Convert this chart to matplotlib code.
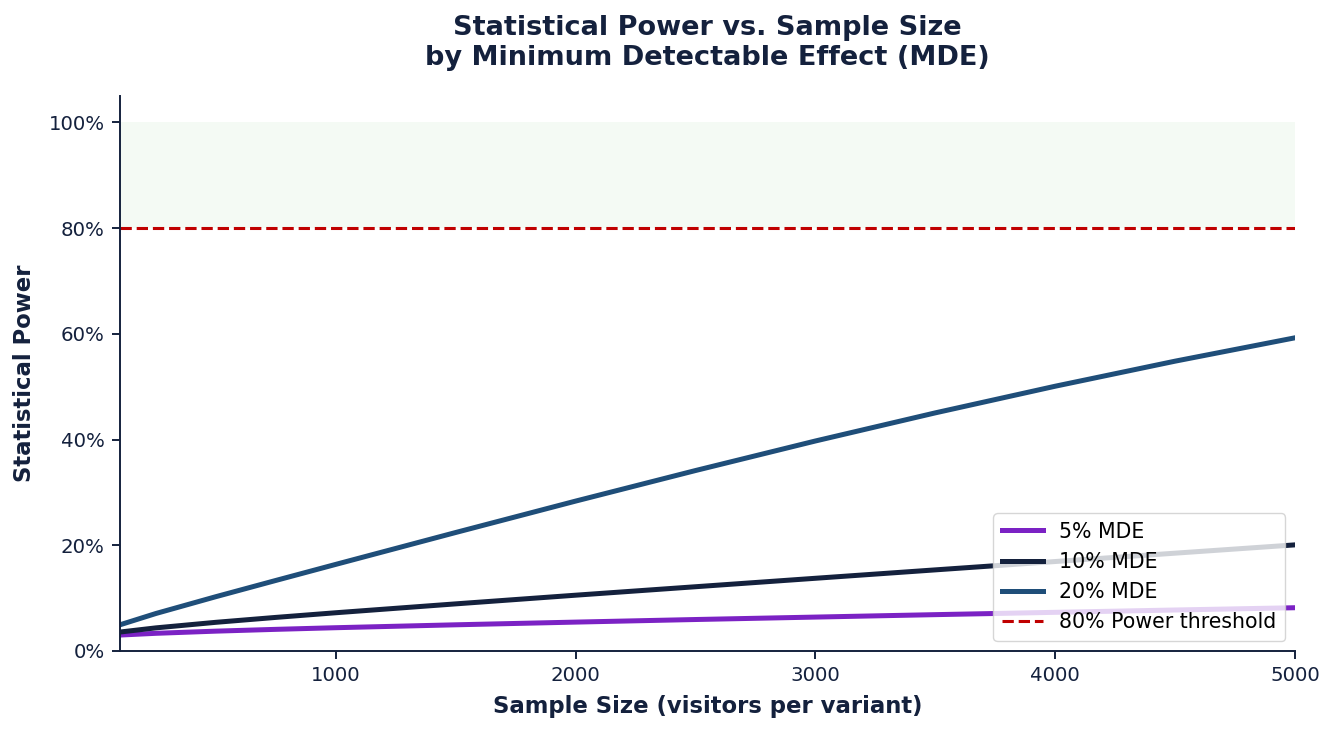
import matplotlib
matplotlib.use("Agg")
import matplotlib.pyplot as plt
from matplotlib.ticker import PercentFormatter

# Sample sizes (visitors per variant)
sample_sizes = [100, 250, 500, 750, 1000, 1500, 2000, 2500, 3000, 3500, 4000, 4500, 5000]

# Power values
power_5 = [0.0301, 0.0334, 0.0375, 0.0409, 0.0440, 0.0495, 0.0546, 0.0595, 0.0641, 0.0687, 0.0731, 0.0775, 0.0818]
power_10 = [0.0358, 0.0437, 0.0542, 0.0635, 0.0723, 0.0891, 0.1055, 0.1215, 0.1375, 0.1534, 0.1692, 0.1850, 0.2007]
power_20 = [0.0495, 0.0709, 0.1027, 0.1334, 0.1638, 0.2241, 0.2835, 0.3413, 0.3972, 0.4504, 0.5008, 0.5482, 0.5924]

series_labels = ["5% MDE", "10% MDE", "20% MDE"]
threshold = 0.8
threshold_label = "80% Power threshold"

navy = "#14213D"
colors = ["#7B22C4", "#14213D", "#1F4E79"]

fig = plt.figure(figsize=(13.36, 7.32), dpi=100)
ax = fig.add_axes([0.0898, 0.1107, 0.8795, 0.7583])

ax.axhspan(0.8, 1.0, color="#2ca02c", alpha=0.05, lw=0)
for vals, lab, c in zip([power_5, power_10, power_20], series_labels, colors):
    ax.plot(sample_sizes, vals, color=c, lw=3.6, label=lab)
ax.axhline(threshold, color="#C00000", ls="--", lw=2.2, label=threshold_label)

ax.set_xlim(100, 5000)
ax.set_ylim(0, 1.05)
ax.set_xticks([1000, 2000, 3000, 4000, 5000])
ax.set_yticks([0, 0.2, 0.4, 0.6, 0.8, 1.0])
ax.yaxis.set_major_formatter(PercentFormatter(1.0, decimals=0))
ax.tick_params(labelsize=14.2, colors=navy, length=6, width=1.4, pad=5)
for s in ["top", "right"]:
    ax.spines[s].set_visible(False)
for s in ["left", "bottom"]:
    ax.spines[s].set_color(navy)
    ax.spines[s].set_linewidth(1.4)

ax.set_xlabel("Sample Size (visitors per variant)", fontsize=16.4, fontweight="bold", color=navy, labelpad=7)
ax.set_ylabel("Statistical Power", fontsize=16.4, fontweight="bold", color=navy, labelpad=9)
ax.set_title("Statistical Power vs. Sample Size\nby Minimum Detectable Effect (MDE)",
             fontsize=19.5, fontweight="bold", color=navy, pad=22)

ax.legend(loc="lower right", fontsize=14.8, framealpha=0.8, borderaxespad=0.5)

fig.savefig("out.png", dpi=100)
